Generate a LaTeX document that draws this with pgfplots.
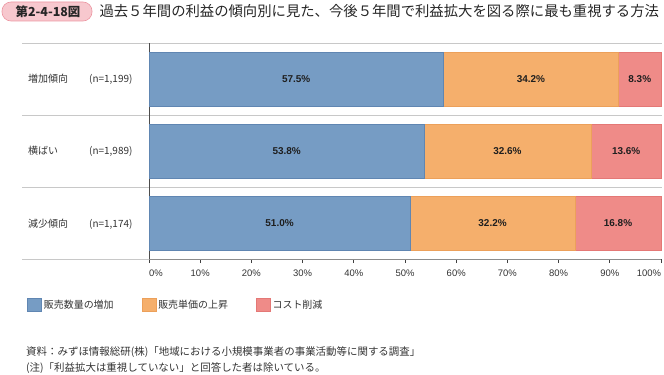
\documentclass[border=0pt]{standalone}
\usepackage{pgfplots}
\pgfplotsset{compat=1.18}
\usepackage{fontspec}
\setmainfont{Noto Sans CJK JP}
\newfontfamily\latinfont{Liberation Sans}
\definecolor{cblue}{RGB}{118,156,196}
\definecolor{cblueE}{RGB}{96,134,178}
\definecolor{corange}{RGB}{245,175,108}
\definecolor{corangeE}{RGB}{236,160,90}
\definecolor{cpink}{RGB}{239,139,136}
\definecolor{cpinkE}{RGB}{228,120,118}
\definecolor{tboxfill}{RGB}{247,200,206}
\definecolor{tboxdraw}{RGB}{236,150,162}
\definecolor{sepgray}{RGB}{200,200,200}
\tikzset{lbl/.style={font=\latinfont\fontsize{10}{12}\selectfont\bfseries, text=black!88}}
\begin{document}
\begin{tikzpicture}[x=1bp,y=1bp]
\path[use as bounding box] (0,0) rectangle (664,374);
% title
\draw[fill=tboxfill, draw=tboxdraw, rounded corners=9bp, line width=0.6bp] (2,353) rectangle (92,372);
\node[font=\fontsize{12.5}{15}\selectfont\bfseries, text=black!85] at (48,362.5) {第2-4-18図};
\node[anchor=west, font=\fontsize{14.4}{16}\selectfont, text=black!85] at (96,362.5) {過去５年間の利益の傾向別に見た、今後５年間で利益拡大を図る際に最も重視する方法};
% separators
\foreach \yy in {331,259,187,115} {\draw[sepgray, line width=0.8bp] (22,\yy) -- (662,\yy);}
\begin{axis}[
  at={(149bp,115bp)}, anchor=south west,
  scale only axis, width=512bp, height=216bp,
  xbar stacked, bar width=54bp,
  xmin=0, xmax=100, ymin=-0.5, ymax=2.5, y dir=reverse,
  ytick=\empty,
  axis x line*=bottom, axis y line*=left,
  x axis line style={draw=black!45, line width=0.8bp, -},
  y axis line style={draw=black!70, line width=0.8bp, -},
  xtick={0,10,20,30,40,50,60,70,80,90,100},
  xticklabels={\makebox[0pt][l]{0\%},10\%,20\%,30\%,40\%,50\%,60\%,70\%,80\%,90\%,\makebox[0pt][r]{100\%}},
  xticklabel style={font=\latinfont\fontsize{9.5}{11}\selectfont, text=black!80, yshift=-3bp},
  tick align=outside, major tick length=4bp,
  tick style={draw=black!75, line width=0.8bp},
  legend style={at={(-0.238,-0.212)}, anchor=west, draw=none, fill=none,
    legend columns=3, font=\fontsize{10}{12}\selectfont, text=black!80,
    /tikz/every even column/.append style={column sep=26bp},
    inner sep=0pt},
  legend image code/.code={\draw[#1] (0bp,-6.5bp) rectangle (14bp,7bp);},
  clip=false,
]
\addplot[fill=cblue, draw=cblueE, line width=0.6bp] coordinates {(57.5,0) (53.8,1) (51.0,2)};
\addplot[fill=corange, draw=corangeE, line width=0.6bp] coordinates {(34.2,0) (32.6,1) (32.2,2)};
\addplot[fill=cpink, draw=cpinkE, line width=0.6bp] coordinates {(8.3,0) (13.6,1) (16.8,2)};
\legend{販売数量の増加,販売単価の上昇,コスト削減}
\end{axis}
\begin{axis}[
  at={(149bp,115bp)}, anchor=south west,
  scale only axis, width=512bp, height=216bp,
  xmin=0, xmax=100, ymin=-0.5, ymax=2.5, y dir=reverse,
  hide axis, clip=false,
]
\node[lbl] at (axis cs:28.75,0) {57.5\%};
\node[lbl] at (axis cs:74.6,0) {34.2\%};
\node[lbl] at (axis cs:95.85,0) {8.3\%};
\node[lbl] at (axis cs:26.9,1) {53.8\%};
\node[lbl] at (axis cs:70.0,1) {32.6\%};
\node[lbl] at (axis cs:93.2,1) {13.6\%};
\node[lbl] at (axis cs:25.5,2) {51.0\%};
\node[lbl] at (axis cs:67.1,2) {32.2\%};
\node[lbl] at (axis cs:91.6,2) {16.8\%};
\end{axis}
% category labels
\begin{scope}[every node/.style={anchor=west, font=\fontsize{10}{12}\selectfont, text=black!80, inner sep=0pt}]
\node at (28,295) {増加傾向};
\node at (89,295) {(n=1,199)};
\node at (28,223) {横ばい};
\node at (89,223) {(n=1,989)};
\node at (28,150) {減少傾向};
\node at (89,150) {(n=1,174)};
\node[font=\fontsize{10.5}{12}\selectfont] at (26,22) {資料：みずほ情報総研(株)「地域における小規模事業者の事業活動等に関する調査」};
\node[font=\fontsize{10.5}{12}\selectfont] at (26,6) {(注)「利益拡大は重視していない」と回答した者は除いている。};
\end{scope}
\end{tikzpicture}
\end{document}
